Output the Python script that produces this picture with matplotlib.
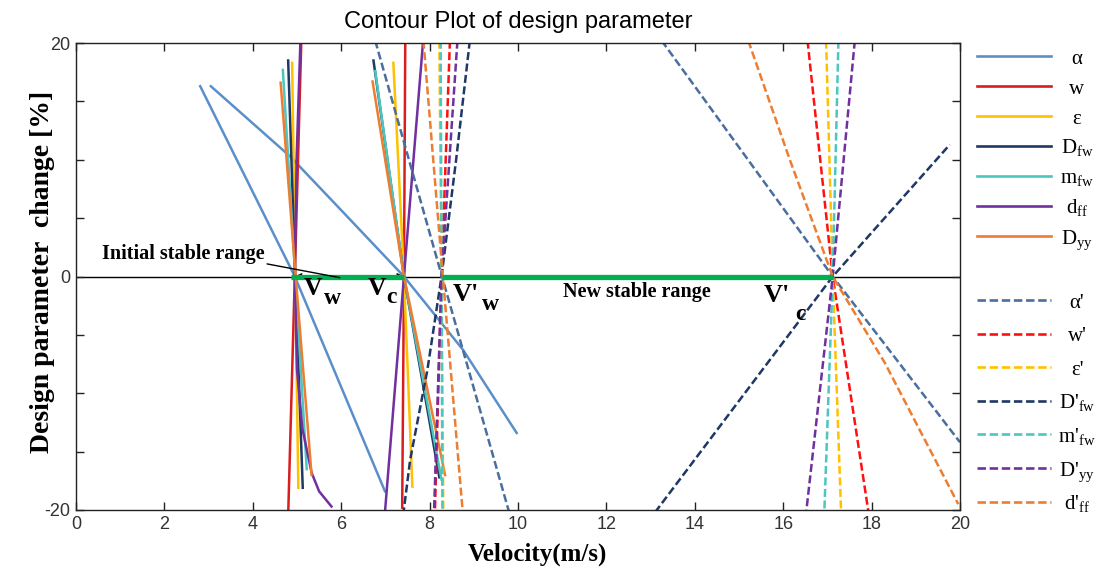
import numpy as np
import matplotlib
matplotlib.use('Agg')
import matplotlib.pyplot as plt
from matplotlib.lines import Line2D

plt.rcParams['mathtext.fontset'] = 'custom'
plt.rcParams['mathtext.rm'] = 'Liberation Serif'
plt.rcParams['mathtext.it'] = 'Liberation Serif:italic'
plt.rcParams['mathtext.bf'] = 'Liberation Serif:bold'
plt.rcParams['axes.unicode_minus'] = False

# ---- data: (velocity, design parameter change) ----
# solid lines, crossing at v_w and v_c
alpha_1 = ([2.81, 4.95, 6.99], [16.3, 0, -18.4])
alpha_2 = ([3.05, 4.84, 6.12, 7.42, 8.76, 9.97], [16.3, 10.3, 5.2, 0, -6.3, -13.4])
w_1 = ([5.10, 4.95, 4.80], [20.5, 0, -20.5])
w_2 = ([7.45, 7.42, 7.38], [20.5, 0, -19.8])
eps_1 = ([4.89, 4.96, 5.03], [18.3, 0, -18.1])
eps_2 = ([7.18, 7.42, 7.61], [18.3, 0, -18.0])
dfw_1 = ([4.80, 4.96, 5.13], [18.5, 0, -18.1])
dfw_2 = ([6.73, 7.42, 8.22], [18.5, 0, -17.2])
mfw_1 = ([4.68, 4.96, 5.22], [17.7, 0, -16.5])
mfw_2 = ([6.77, 7.42, 8.27], [17.6, 0, -17.4])
dff_1 = ([5.08, 4.99, 4.95, 5.00, 5.12, 5.33, 5.50, 5.78],
         [20.5, 10, 0, -8, -13, -16.8, -18.4, -19.7])
dff_2 = ([7.86, 7.42, 6.99], [20.5, 0, -20.2])
dyy_1 = ([4.63, 4.97, 5.33], [16.6, 0, -17.0])
dyy_2 = ([6.71, 7.42, 8.35], [16.7, 0, -17.0])

# dashed lines, crossing at v'_w and v'_c
alpha_p1 = ([6.77, 8.28, 9.80], [20.2, 0, -20.2])
alpha_p2 = ([13.25, 17.12, 20.0], [20.2, 0, -14.2])
w_p1 = ([8.46, 8.27, 8.12], [20.2, 0, -20.2])
w_p2 = ([16.55, 17.12, 17.93], [20.2, 0, -20.2])
eps_p1 = ([8.22, 8.27, 8.31], [20.2, 0, -20.2])
eps_p2 = ([16.97, 17.12, 17.31], [20.2, 0, -20.2])
dfw_p1 = ([8.91, 8.60, 8.27, 7.95, 7.56, 7.41], [20.2, 10, 0, -8, -15.7, -20.2])
dfw_p2 = ([13.10, 17.12, 19.77], [-20.2, 0, 11.3])
mfw_p1 = ([8.25, 8.27, 8.29], [20.2, 0, -20.2])
mfw_p2 = ([17.25, 17.12, 16.93], [20.2, 0, -20.2])
dyy_p1 = ([8.63, 8.27, 8.10], [20.2, 0, -20.2])
dyy_p2 = ([17.62, 17.12, 16.52], [20.2, 0, -20.2])
dff_p1 = ([7.86, 8.30, 8.75], [20.2, 0, -20.2])
dff_p2 = ([15.21, 16.15, 17.12, 18.30, 19.96], [20.2, 10, 0, -7.4, -19.5])

# critical velocities and stable ranges
v_w, v_c, v_w_new, v_c_new = 4.95, 7.42, 8.27, 17.12
stable_initial = [4.87, 7.42]
stable_new = [8.27, 17.12]

xticks = [0, 2, 4, 6, 8, 10, 12, 14, 16, 18, 20]
yticks = [-20, 0, 20]
yticks_minor = [-20, -15, -10, -5, 0, 5, 10, 15, 20]

solid_labels = ['α', 'w', 'ε', r'D$_{\mathrm{fw}}$', r'm$_{\mathrm{fw}}$',
                r'd$_{\mathrm{ff}}$', r'D$_{\mathrm{yy}}$']
dashed_labels = ["α'", "w'", "ε'", r"D'$_{\mathrm{fw}}$", r"m'$_{\mathrm{fw}}$",
                 r"D'$_{\mathrm{yy}}$", r"d'$_{\mathrm{ff}}$"]
solid_curves = [[alpha_1, alpha_2], [w_1, w_2], [eps_1, eps_2], [dfw_1, dfw_2],
                [mfw_1, mfw_2], [dff_1, dff_2], [dyy_1, dyy_2]]
dashed_curves = [[alpha_p1, alpha_p2], [w_p1, w_p2], [eps_p1, eps_p2], [dfw_p1, dfw_p2],
                 [mfw_p1, mfw_p2], [dyy_p1, dyy_p2], [dff_p1, dff_p2]]

# ---- style ----
solid_colors = ['#5B8FC9', '#D81E1E', '#FFC000', '#1F3864', '#4BC6C0', '#7030A0', '#ED7D31']
dashed_colors = ['#4A6E9E', '#FF1010', '#FFC000', '#1F3864', '#4BC6C0', '#7030A0', '#ED7D31']
dash = (0, (3.2, 1.4))
serif = 'Liberation Serif'
tick_font = ['Liberation Sans Narrow', 'Liberation Sans']

W, H = 1099, 577
fig = plt.figure(figsize=(W / 100, H / 100), dpi=100)
ax = fig.add_axes([76 / W, 1 - 510 / H, 884 / W, 467 / H])

solid_handles = []
for curves, c in zip(solid_curves, solid_colors):
    for xs, ys in curves:
        ln, = ax.plot(xs, ys, color=c, lw=1.8, zorder=2)
    solid_handles.append(ln)

dashed_handles = []
for curves, c in zip(dashed_curves, dashed_colors):
    for xs, ys in curves:
        ln, = ax.plot(xs, ys, color=c, lw=1.8, linestyle=dash, zorder=2)
    dashed_handles.append(ln)

ax.axhline(0, color='black', lw=1.0, zorder=1.5)
ax.annotate('', xy=(v_w, 0), xytext=(v_c, 0),
            arrowprops=dict(arrowstyle='<->', color='black', lw=1.2,
                            mutation_scale=9, shrinkA=0, shrinkB=0), zorder=2.5)
ax.plot(stable_initial, [0, 0], color='#00B050', lw=3.8, solid_capstyle='butt', zorder=3)
ax.plot(stable_new, [0, 0], color='#00B050', lw=3.8, solid_capstyle='butt', zorder=3)

# annotations
bold = dict(family=serif, fontweight='bold', color='black')
ax.annotate('Initial stable range', xy=(5.97, -0.1), xytext=(0.58, 1.46),
            fontsize=14.5, va='baseline', ha='left', **bold,
            arrowprops=dict(arrowstyle='-', color='black', lw=1.0,
                            shrinkA=0, shrinkB=0, relpos=(0.97, 0.1)), zorder=6)
ax.text(11.02, -1.74, 'New stable range', fontsize=14.5, va='baseline', **bold)

ax.text(5.16, -1.6, 'V', fontsize=18.5, va='baseline', **bold)
ax.text(5.62, -2.35, 'w', fontsize=17, va='baseline', **bold)
ax.text(6.60, -1.6, 'V', fontsize=18.5, va='baseline', **bold)
ax.text(7.02, -2.3, 'c', fontsize=17, va='baseline', **bold)
ax.text(8.52, -2.1, "V'", fontsize=19, va='baseline', **bold)
ax.text(9.18, -2.85, 'w', fontsize=17, va='baseline', **bold)
ax.text(15.57, -2.15, "V'", fontsize=19, va='baseline', **bold)
ax.text(16.27, -3.7, 'c', fontsize=17, va='baseline', **bold)

# axes
ax.set_xlim(0, 20)
ax.set_ylim(-20, 20)
ax.set_xticks(xticks)
ax.set_yticks(yticks)
ax.set_yticks(yticks_minor, minor=True)
ax.tick_params(which='both', direction='in', top=True, right=True,
               length=6, width=1.0, colors='#222222', labelsize=13, pad=4)
for lab in ax.get_xticklabels() + ax.get_yticklabels():
    lab.set_family(tick_font)
    lab.set_color('#333333')
for s in ax.spines.values():
    s.set_color('#222222')
    s.set_linewidth(1.0)

ax.set_title('Contour Plot of design parameter', fontsize=17,
             family='Liberation Sans', pad=11)
ax.set_xlabel('Velocity(m/s)', fontsize=18, **bold)
ax.xaxis.set_label_coords(0.5215, -0.07)
ax.set_ylabel('Design parameter  change [%]', fontsize=20, **bold)
ax.yaxis.set_label_coords(-0.024, 0.51)

# legend drawn in the right margin, one row per series
def legend_rows(handles, labels, rows_px):
    for h, lab, y in zip(handles, labels, rows_px):
        fig.add_artist(Line2D([977 / W, 1051 / W], [1 - y / H] * 2,
                              transform=fig.transFigure, color=h.get_color(),
                              linestyle=h.get_linestyle() if h.get_linestyle() == '-' else dash,
                              lw=1.9))
        fig.text(1077 / W, 1 - (y + 7.5) / H, lab, ha='center', va='baseline',
                 family=serif, fontsize=15)

legend_rows(solid_handles, solid_labels, [56 + 30 * i for i in range(7)])
legend_rows(dashed_handles, dashed_labels, [300 + 33.6 * i for i in range(7)])

fig.savefig('out.png', dpi=100)
